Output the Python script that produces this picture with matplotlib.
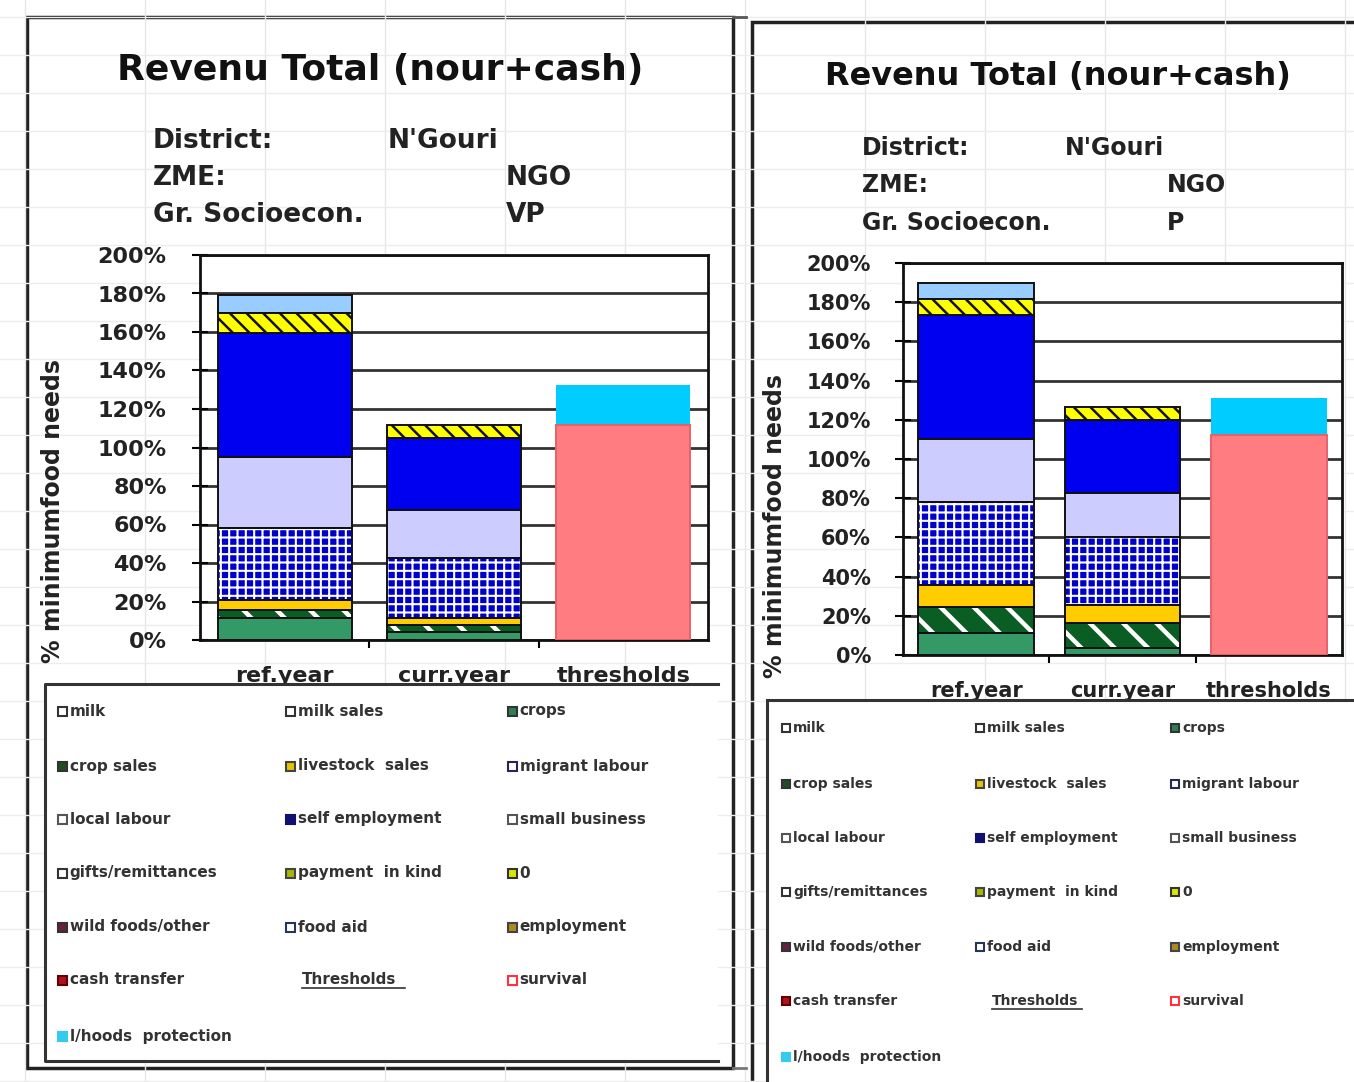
import matplotlib
matplotlib.use('Agg')
import matplotlib.pyplot as plt
import matplotlib.patches as mpatches
import numpy as np

plt.rcParams['font.family'] = 'DejaVu Sans'
plt.rcParams['font.weight'] = 'bold'
plt.rcParams['axes.labelweight'] = 'bold'
plt.rcParams['hatch.linewidth'] = 2.0

W, H = 1354, 1082

categories = ['ref.year', 'curr.year', 'thresholds']

# left chart : N'Gouri / NGO / VP  (% minimum food needs)
crops_vp = [11.5, 4.3, 0]
crop_sales_vp = [4.1, 3.7, 0]
livestock_vp = [5.4, 3.4, 0]
migrant_vp = [37, 31.2, 0]
local_vp = [37, 24.9, 0]
self_emp_vp = [64.5, 37.3, 0]
payment_vp = [10.5, 6.9, 0]
food_aid_vp = [9, 0, 0]
survival_vp = [0, 0, 111.7]
lhoods_vp = [0, 0, 20.8]

# right chart : N'Gouri / NGO / P
crops_p = [11, 3.4, 0]
crop_sales_p = [13.7, 12.8, 0]
livestock_p = [11, 9.3, 0]
migrant_p = [42.3, 34.9, 0]
local_p = [32, 22.4, 0]
self_emp_p = [63.5, 37.2, 0]
payment_p = [8, 6.4, 0]
food_aid_p = [8.5, 0, 0]
survival_p = [0, 0, 112]
lhoods_p = [0, 0, 19.3]

# face, hatch, hatch colour, edge, hatch width
styles = [
    ('#339966', None, None, '#111111', 0),
    ('#0B5E23', '\\', 'white', '#111111', 3.2),
    ('#FFCC00', None, None, '#111111', 0),
    ('#0000CC', '++', 'white', '#111111', 1.5),
    ('#CCCCFF', None, None, '#111111', 0),
    ('#0000F0', None, None, '#111111', 0),
    ('#FFFF00', '\\\\', '#111111', '#111111', 1.8),
    ('#99CCFF', None, None, '#111111', 0),
    ('#FF7C80', None, None, '#E8606A', 0),
    ('#00CCFF', None, None, None, 0),
]

legend_labels = ['milk', 'milk sales', 'crops',
                 'crop sales', 'livestock  sales', 'migrant labour',
                 'local labour', 'self employment', 'small business',
                 'gifts/remittances', 'payment  in kind', '0',
                 'wild foods/other', 'food aid', 'employment',
                 'cash transfer', 'Thresholds', 'survival',
                 'l/hoods  protection']
legend_face = ['white', 'white', '#2F7F55',
               '#1F4F1F', '#E8C400', 'white',
               'white', '#101070', 'white',
               'white', '#A8B800', '#D8E800',
               '#6A2040', 'white', '#B08A20',
               '#B01020', None, 'white',
               '#33CCEE']
legend_edge = ['#333333', '#333333', '#333333',
               '#333333', '#444444', '#26265A',
               '#555555', '#101070', '#555555',
               '#333333', '#444444', '#333333',
               '#333333', '#26365A', '#444444',
               '#600000', None, '#FF3040',
               '#33CCEE']

fig = plt.figure(figsize=(W / 100, H / 100), dpi=100)

# background (spreadsheet + panels)
bg = fig.add_axes([0, 0, 1, 1], zorder=-5)
bg.set_xlim(0, W)
bg.set_ylim(H, 0)
bg.axis('off')
for gx in range(25, W, 120):
    bg.plot([gx, gx], [0, H], color='#e6e6e6', lw=1)
for gy in range(17, H, 38):
    bg.plot([0, W], [gy, gy], color='#ededed', lw=1)
bg.add_patch(mpatches.Rectangle((27, 17), 706, 1051, facecolor='white', edgecolor='#222222', lw=2.5))
bg.plot([733, 746], [17, 17], color='#555555', lw=2)
bg.plot([733, 746], [1068, 1068], color='#777777', lw=2)
bg.add_patch(mpatches.Rectangle((752, 22), 720, 1100, facecolor='white', edgecolor='#222222', lw=2.5))

# titles and header info
bg.text(380, 70, 'Revenu Total (nour+cash)', fontsize=26, ha='center', va='center', color='#111111')
bg.text(1058, 76, 'Revenu Total (nour+cash)', fontsize=23, ha='center', va='center', color='#111111')
for (lx, vx, vy, key, val) in [(153, 388, 141, 'District:', "N'Gouri"),
                               (153, 506, 178, 'ZME:', 'NGO'),
                               (153, 506, 215, 'Gr. Socioecon.', 'VP')]:
    bg.text(lx, vy, key, fontsize=19, ha='left', va='center', color='#222222')
    bg.text(vx, vy, val, fontsize=19, ha='left', va='center', color='#222222')
for (lx, vx, vy, key, val) in [(862, 1065, 148, 'District:', "N'Gouri"),
                               (862, 1167, 185, 'ZME:', 'NGO'),
                               (862, 1167, 223, 'Gr. Socioecon.', 'P')]:
    bg.text(lx, vy, key, fontsize=17, ha='left', va='center', color='#222222')
    bg.text(vx, vy, val, fontsize=17, ha='left', va='center', color='#222222')


def draw_chart(px_left, px_right, px_top, px_bottom, values, tsize, ypad, ylab_xy):
    ax = fig.add_axes([px_left / W, 1 - px_bottom / H,
                       (px_right - px_left) / W, (px_bottom - px_top) / H])
    x = np.arange(len(categories))
    bottom = np.zeros(len(categories))
    for vals, (face, hatch, hcol, edge, hlw) in zip(values, styles):
        vals = np.array(vals, dtype=float)
        keep = vals > 0
        if hatch:
            bars = ax.bar(x[keep], vals[keep], 0.79, bottom=bottom[keep], color=face,
                          edgecolor=hcol, hatch=hatch, linewidth=0, zorder=2)
            for b in bars:
                if hasattr(b, 'set_hatch_linewidth'):
                    b.set_hatch_linewidth(hlw)
        else:
            ax.bar(x[keep], vals[keep], 0.79, bottom=bottom[keep], color=face,
                   linewidth=0, zorder=2)
        if edge:
            ax.bar(x[keep], vals[keep], 0.79, bottom=bottom[keep], fill=False,
                   edgecolor=edge, linewidth=1.4, zorder=3)
        bottom += vals
    ax.set_xlim(-0.5, 2.5)
    ax.set_ylim(0, 200)
    ax.set_yticks(range(0, 201, 20))
    ax.set_yticklabels([f'{v}%' for v in range(0, 201, 20)])
    ax.yaxis.grid(True, color='#333333', lw=2)
    ax.set_axisbelow(True)
    ax.tick_params(axis='y', direction='inout', length=12, width=1.5,
                   pad=ypad, labelsize=tsize, labelcolor='#222222')
    ax.set_xticks(x, categories)
    ax.tick_params(axis='x', length=0, pad=19, labelsize=tsize, labelcolor='#222222')
    ax.set_xticks([0.5, 1.5], minor=True)
    ax.tick_params(axis='x', which='minor', direction='out', length=6, width=1.5)
    for s in ax.spines.values():
        s.set_linewidth(2)
        s.set_color('#111111')
    ax.set_ylabel('% minimumfood needs', fontsize=17, fontweight='bold', color='#222222')
    ax.yaxis.set_label_coords(*ylab_xy)
    return ax


left_values = [crops_vp, crop_sales_vp, livestock_vp, migrant_vp, local_vp,
               self_emp_vp, payment_vp, food_aid_vp, survival_vp, lhoods_vp]
right_values = [crops_p, crop_sales_p, livestock_p, migrant_p, local_p,
                self_emp_p, payment_p, food_aid_p, survival_p, lhoods_p]

draw_chart(200, 708, 255, 640, left_values, 16, 18, (-0.266, 0.335))
draw_chart(903, 1342, 263, 655, right_values, 15, 17, (-0.264, 0.33))

# legend boxes drawn on top
fg = fig.add_axes([0, 0, 1, 1], zorder=10)
fg.set_xlim(0, W)
fg.set_ylim(H, 0)
fg.axis('off')
fg.patch.set_alpha(0)
fg.add_patch(mpatches.Rectangle((45, 684), 673, 377, facecolor='white', edgecolor='none'))
fg.plot([718, 45, 45, 718], [684, 684, 1061, 1061], color='#333333', lw=2.2)
fg.add_patch(mpatches.Rectangle((767, 700), 700, 500, facecolor='white', edgecolor='#333333', lw=2.2))


def draw_legend(col_x, row_y, msize, fsize, th_w):
    for i, lab in enumerate(legend_labels):
        cx = col_x[i % 3]
        cy = row_y[i // 3]
        if legend_face[i] is None:
            fg.text(cx + 12, cy, lab, fontsize=fsize, ha='left', va='center', color='#333333')
            fg.plot([cx + 12, cx + 12 + th_w], [cy + 8, cy + 8], color='#333333', lw=1.2)
            continue
        fg.add_patch(mpatches.Rectangle((cx - msize / 2, cy - msize / 2), msize, msize,
                                        facecolor=legend_face[i], edgecolor=legend_edge[i], lw=1.5))
        fg.text(cx + msize / 2 + 3, cy, lab, fontsize=fsize, ha='left', va='center', color='#333333')


draw_legend([62, 290, 512], [711, 766, 819, 873, 927, 980, 1036], 9, 11, 103)
draw_legend([786, 980, 1175], [728, 784, 838, 892, 947, 1001, 1057], 8, 10, 90)

fig.savefig('out.png', dpi=100)
